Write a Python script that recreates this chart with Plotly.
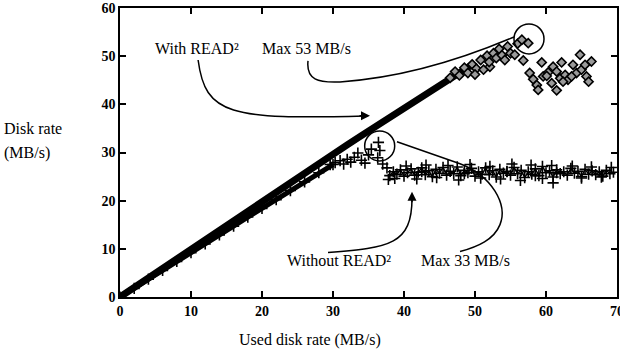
import plotly.graph_objects as go

# ---------------- data ----------------
# With READ2: dense part (drawn as thick band)
with_line_x = [0, 2, 4, 6, 8, 10, 12, 14, 16, 18, 20, 22, 24, 26, 28, 30, 32, 34, 36, 38, 40, 42, 44, 46, 48, 50]
with_line_y = [0, 2.0, 4.0, 5.9, 7.9, 9.9, 11.9, 13.9, 15.8, 17.8, 19.8, 21.8, 23.7, 25.7, 27.7, 29.6, 31.6, 33.5, 35.4, 37.3, 39.2, 41.1, 43.0, 44.9, 46.8, 48.6]
# With READ2: scattered diamonds near the top of the line
with_top_x = [46.5, 47.2, 47.8, 48.5, 49.0, 49.6, 50.2, 50.8, 51.2, 51.7, 52.1, 52.6, 53.0, 53.4, 53.8, 54.2, 54.6, 55.0, 55.6, 56.0, 56.6, 57.5, 56.8, 52.0, 50.0]
with_top_y = [45.5, 46.8, 46.0, 47.6, 46.5, 48.3, 47.4, 49.2, 47.2, 50.1, 47.8, 50.6, 49.6, 51.5, 50.2, 49.2, 52.0, 50.6, 50.3, 52.6, 53.4, 52.7, 49.1, 48.8, 46.2]
# With READ2: cluster after saturation
with_clu_x = [59.4, 57.7, 58.2, 58.7, 58.9, 59.6, 60.3, 61.0, 62.2, 60.8, 61.5, 62.0, 62.7, 63.1, 63.8, 64.3, 64.8, 65.0, 65.7, 66.0, 66.4, 65.5, 63.6, 62.4, 60.1, 61.5]
with_clu_y = [48.7, 46.5, 45.2, 44.0, 43.0, 45.8, 46.6, 47.8, 48.7, 44.4, 42.9, 45.4, 46.1, 45.1, 48.2, 46.5, 50.3, 47.2, 45.8, 44.7, 48.9, 48.2, 45.8, 44.7, 45.9, 46.8]

# Without READ2: rising part
wo_line_x = [0, 2, 4, 6, 8, 10, 12, 14, 16, 18, 20, 22, 24, 26, 28, 30]
wo_line_y = [0, 1.8, 3.7, 5.5, 7.4, 9.2, 11.0, 12.9, 14.7, 16.6, 18.4, 20.2, 22.1, 23.9, 25.8, 27.5]
# Without READ2: peak region
wo_peak_x = [29.6, 30.3, 31.0, 31.5, 32.0, 32.5, 33.0, 33.5, 34.0, 34.5, 35.0, 35.4, 36.3, 36.6, 36.4, 37.0, 37.6, 37.8]
wo_peak_y = [27.5, 27.9, 28.3, 27.6, 28.6, 28.0, 29.0, 29.9, 28.4, 27.8, 29.5, 30.7, 28.9, 30.4, 32.1, 27.6, 26.8, 24.4]
# Without READ2: flat part
wo_flat_x = [38.0, 38.5, 39.0, 39.5, 40.0, 40.5, 41.0, 41.5, 42.0, 42.5, 43.0, 43.5, 44.0, 44.5, 45.0, 45.5,
             46.0, 46.5, 47.0, 47.5, 48.0, 48.5, 49.0, 49.5, 50.0, 50.5, 51.0, 51.5, 52.0, 52.5, 53.0, 53.5,
             54.0, 54.5, 55.0, 55.5, 56.0, 56.5, 57.0, 57.5, 58.0, 58.5, 59.0, 59.5, 60.0, 60.5, 61.0, 61.5,
             62.0, 62.5, 63.0, 63.5, 64.0, 64.5, 65.0, 65.5, 66.0, 66.5, 67.0, 67.5, 68.0, 68.5, 69.0, 69.5]
wo_flat_y = [25.2, 26.0, 25.5, 26.4, 25.1, 25.8, 26.6, 25.3, 25.9, 26.8, 25.4, 26.2, 25.0, 26.5, 25.7, 26.9,
             25.3, 26.1, 25.6, 27.0, 25.2, 26.3, 25.8, 26.7, 25.1, 26.0, 25.5, 26.8, 25.4, 26.2, 24.9, 26.5,
             25.7, 26.1, 25.3, 26.9, 25.6, 26.3, 24.8, 26.0, 25.5, 26.6, 25.2, 27.1, 25.8, 26.2, 24.9, 26.4,
             25.6, 26.0, 25.3, 26.7, 25.7, 26.1, 25.0, 26.5, 25.5, 26.2, 25.4, 26.0, 25.1, 26.3, 25.6, 25.9]
wo_extra_x = [38.7, 40.3, 41.8, 43.1, 44.6, 46.2, 47.7, 49.3, 50.8, 52.1, 53.6, 55.2, 56.4, 57.9, 59.5, 60.8,
              61.0, 63.7, 65.0, 66.4, 67.8, 69.2, 42.5, 48.5, 54.5, 61.5, 58.5]
wo_extra_y = [24.6, 27.2, 24.5, 27.4, 24.8, 27.3, 24.3, 27.5, 24.7, 27.1, 24.5, 27.6, 24.2, 27.4, 24.6, 27.3,
              23.7, 27.2, 24.7, 27.0, 24.9, 26.9, 26.0, 25.6, 26.0, 25.8, 25.2]

x_ticks = [0, 10, 20, 30, 40, 50, 60, 70]
y_ticks = [0, 10, 20, 30, 40, 50, 60]

# ---------------- styling ----------------
SERIF = "Liberation Serif, Times New Roman, serif"
diamond = dict(symbol="diamond", size=7, color="#9a9a9a", line=dict(color="black", width=1.6))
cross = dict(symbol="cross-thin", size=8, color="black", line=dict(color="black", width=1.6))

fig = go.Figure()
fig.add_trace(go.Scatter(x=wo_line_x, y=wo_line_y, mode="lines+markers",
                         line=dict(color="black", width=5), marker=cross, showlegend=False))
fig.add_trace(go.Scatter(x=wo_peak_x, y=wo_peak_y, mode="markers", marker=cross, showlegend=False))
fig.add_trace(go.Scatter(x=wo_flat_x, y=wo_flat_y, mode="lines+markers",
                         line=dict(color="black", width=1.5), marker=cross, showlegend=False))
fig.add_trace(go.Scatter(x=wo_extra_x, y=wo_extra_y, mode="markers", marker=cross, showlegend=False))
fig.add_trace(go.Scatter(x=with_line_x, y=with_line_y, mode="lines",
                         line=dict(color="black", width=7), showlegend=False))
fig.add_trace(go.Scatter(x=with_top_x, y=with_top_y, mode="markers", marker=diamond, showlegend=False))
fig.add_trace(go.Scatter(x=with_clu_x, y=with_clu_y, mode="markers", marker=diamond, showlegend=False))

# ---------------- annotation geometry (data coordinates) ----------------
line_style = dict(color="black", width=1.5)
shapes = [
    dict(type="path", xref="x", yref="y", line=line_style,
         path="M 11.0,49.2 C 12.0,37.8 15.5,36.8 34.5,37.6"),
    dict(type="path", xref="x", yref="y", line=line_style,
         path="M 26.48,49.02 C 26.20,45.08 27.89,44.46 30.99,44.66 C 39.44,45.49 47.89,49.22 55.49,53.99"),
    dict(type="circle", xref="x", yref="y", line=line_style, x0=55.49, x1=59.72, y0=50.47, y1=56.68),
    dict(type="circle", xref="x", yref="y", line=line_style, x0=34.46, x1=38.69, y0=28.25, y1=34.47),
    dict(type="path", xref="x", yref="y", line=line_style,
         path="M 39.01,32.23 L 47.89,27.67 C 52.39,25.18 54.65,19.17 53.52,15.03 C 52.68,11.92 50.42,10.47 47.89,9.43"),
    dict(type="path", xref="x", yref="y", line=line_style,
         path="M 29.30,9.22 C 38.03,10.26 41.13,10.88 41.13,20.62"),
]
for s in shapes:
    s["layer"] = "above"

txt_font = dict(family=SERIF, size=16, color="black")
annotations = [
    dict(x=10.8, y=51.6, text="With READ²", showarrow=False, font=txt_font),
    dict(x=26.3, y=51.6, text="Max 53 MB/s", showarrow=False, font=txt_font),
    dict(x=30.8, y=7.6, text="Without READ²", showarrow=False, font=txt_font),
    dict(x=48.6, y=7.6, text="Max 33 MB/s", showarrow=False, font=txt_font),
    # arrow heads
    dict(x=35.21, y=37.62, ax=-12, ay=0, text="", showarrow=True, arrowhead=2,
         arrowsize=1.2, arrowwidth=1.5, arrowcolor="black"),
    dict(x=41.13, y=21.87, ax=0, ay=12, text="", showarrow=True, arrowhead=2,
         arrowsize=1.2, arrowwidth=1.5, arrowcolor="black"),
    # axis titles
    dict(xref="paper", yref="paper", x=-0.237, y=(297.5 - 129) / 289.5, xanchor="left",
         text="Disk rate", showarrow=False, font=txt_font),
    dict(xref="paper", yref="paper", x=-0.237, y=(297.5 - 153) / 289.5, xanchor="left",
         text="(MB/s)", showarrow=False, font=txt_font),
    dict(xref="paper", yref="paper", x=(310 - 120) / 497, y=(297.5 - 341) / 289.5,
         xanchor="center", yanchor="middle",
         text="Used disk rate (MB/s)", showarrow=False, font=txt_font),
]

axis_common = dict(showline=True, linecolor="black", linewidth=1.5, mirror="allticks",
                   ticks="inside", ticklen=6, tickwidth=1.5, tickcolor="black",
                   showgrid=False, zeroline=False, ticklabeloverflow="allow", automargin=False,
                   tickfont=dict(family=SERIF, size=14, color="black", weight="bold"))

fig.update_layout(
    width=620, height=349,
    margin=dict(l=120, r=3, t=8, b=51.5, autoexpand=False),
    paper_bgcolor="white", plot_bgcolor="white",
    shapes=shapes, annotations=annotations,
    xaxis=dict(range=[0, 70], tickvals=x_ticks, ticktext=[str(v) for v in x_ticks], **axis_common),
    yaxis=dict(range=[0, 60], tickvals=y_ticks, ticktext=[str(v) for v in y_ticks], **axis_common),
)

fig.write_html("out.html")
